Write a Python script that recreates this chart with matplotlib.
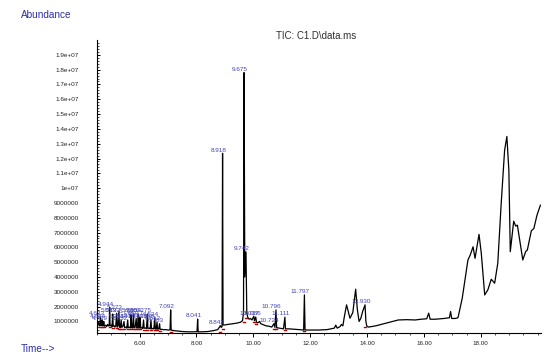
import numpy as np
import matplotlib
matplotlib.use("Agg")
import matplotlib.pyplot as plt

plt.rcParams['font.family'] = ['Liberation Sans', 'DejaVu Sans']

# TIC trace, retention time (min) vs abundance (millions of counts)
rt = [
    4.50, 4.55, 4.58, 4.60, 4.623, 4.64, 4.66, 4.684, 4.70, 4.72, 4.739, 4.76,
    4.80, 4.84, 4.87, 4.90, 4.93, 4.944, 4.96, 5.00, 5.03, 5.053, 5.07, 5.10,
    5.13, 5.16, 5.192, 5.21, 5.24, 5.273, 5.29, 5.32, 5.351, 5.37, 5.41, 5.452,
    5.47, 5.52, 5.55, 5.581, 5.60, 5.65, 5.68, 5.702, 5.72, 5.75, 5.786, 5.80,
    5.84, 5.880, 5.90, 5.93, 5.954, 5.97, 6.00, 6.017, 6.04, 6.08, 6.11, 6.138,
    6.16, 6.20, 6.24, 6.275, 6.29, 6.33, 6.37, 6.398, 6.42, 6.47, 6.50, 6.534,
    6.55, 6.58, 6.612, 6.63, 6.67, 6.703, 6.72, 6.78, 6.85, 6.92, 7.00, 7.07,
    7.092, 7.11, 7.20, 7.35, 7.50, 7.70, 7.90, 8.02, 8.041, 8.06, 8.20, 8.40,
    8.60, 8.75, 8.842, 8.87, 8.90, 8.918, 8.935, 8.96, 9.10, 9.30, 9.45, 9.55,
    9.62, 9.655, 9.675, 9.70, 9.742, 9.77, 9.80, 9.85, 9.90, 9.95, 10.017, 10.04,
    10.086, 10.11, 10.15, 10.22, 10.26, 10.35, 10.45, 10.55, 10.65, 10.724, 10.76, 10.796,
    10.82, 10.90, 11.00, 11.06, 11.111, 11.13, 11.25, 11.40, 11.60, 11.77, 11.797, 11.82,
    12.00, 12.30, 12.60, 12.85, 12.90, 12.95, 13.05, 13.10, 13.15, 13.20, 13.28, 13.35,
    13.40, 13.50, 13.60, 13.66, 13.72, 13.78, 13.85, 13.930, 13.96, 13.99, 14.05, 14.30,
    14.60, 14.90, 15.10, 15.40, 15.70, 15.90, 16.10, 16.17, 16.22, 16.40, 16.70, 16.90,
    16.94, 16.98, 17.10, 17.20, 17.35, 17.55, 17.63, 17.73, 17.80, 17.94, 18.02, 18.14,
    18.25, 18.37, 18.49, 18.60, 18.72, 18.84, 18.92, 18.99, 19.04, 19.16, 19.23, 19.29,
    19.48, 19.58, 19.64, 19.78, 19.87, 19.98, 20.10,
]
abund = [
    0.80, 0.95, 0.70, 0.75, 1.30, 0.72, 0.80, 1.10, 0.70, 0.78, 1.00, 0.68,
    0.75, 0.65, 0.80, 0.70, 0.72, 1.95, 0.70, 0.75, 0.66, 1.50, 0.68, 0.72,
    0.62, 0.70, 1.55, 0.62, 0.70, 1.70, 0.64, 0.58, 1.10, 0.60, 0.66, 1.00,
    0.58, 0.62, 0.55, 1.10, 0.58, 0.62, 0.56, 1.45, 0.58, 0.56, 1.50, 0.56,
    0.60, 1.20, 0.55, 0.58, 1.50, 0.55, 0.58, 1.30, 0.54, 0.58, 0.52, 1.10,
    0.54, 0.56, 0.52, 1.50, 0.52, 0.55, 0.50, 1.10, 0.50, 0.53, 0.49, 1.25,
    0.50, 0.48, 0.95, 0.48, 0.50, 0.85, 0.46, 0.47, 0.44, 0.45, 0.42, 0.43,
    1.78, 0.42, 0.38, 0.35, 0.32, 0.30, 0.30, 0.31, 1.16, 0.30, 0.30, 0.32,
    0.38, 0.45, 0.72, 0.60, 0.65, 12.35, 0.80, 0.75, 0.80, 0.85, 0.90, 0.95,
    1.05, 1.60, 17.80, 4.00, 5.70, 1.60, 1.30, 1.15, 1.20, 1.10, 1.35, 1.05,
    1.30, 0.95, 0.90, 1.00, 0.85, 0.78, 0.70, 0.68, 0.62, 0.85, 0.60, 1.78,
    0.58, 0.55, 0.52, 0.50, 1.29, 0.50, 0.50, 0.48, 0.45, 0.42, 2.79, 0.42,
    0.42, 0.42, 0.45, 0.55, 0.75, 0.55, 0.65, 0.80, 0.70, 1.30, 2.12, 1.60,
    1.22, 1.60, 3.18, 1.80, 1.00, 1.20, 1.70, 2.12, 1.00, 0.70, 0.62, 0.70,
    0.85, 1.00, 1.10, 1.12, 1.10, 1.15, 1.18, 1.56, 1.15, 1.15, 1.20, 1.25,
    1.67, 1.20, 1.20, 1.25, 2.57, 5.15, 5.48, 6.04, 5.26, 6.88, 5.60, 2.79,
    3.13, 3.85, 3.58, 4.93, 8.96, 12.55, 13.49, 11.20, 5.71, 7.77, 7.44, 7.50,
    5.15, 5.71, 5.82, 7.12, 7.28, 8.18, 8.85,
]

# integrated peaks that carry a retention-time label
labelled_rt = [
    4.623, 4.684, 4.739, 4.944, 5.053, 5.192, 5.273, 5.351, 5.452, 5.581,
    5.702, 5.786, 5.880, 5.954, 6.017, 6.138, 6.275, 6.398, 6.534, 6.612,
    6.703, 7.092, 8.041, 8.842, 8.918, 9.675, 9.742, 10.017, 10.086, 10.724,
    10.796, 11.111, 11.797, 13.930,
]

x_ticks = [6, 8, 10, 12, 14, 16, 18]
x_tick_labels = ["6.00", "8.00", "10.00", "12.00", "14.00", "16.00", "18.00"]
y_ticks = list(range(1, 20))
y_tick_labels = [
    "1000000", "2000000", "3000000", "4000000", "5000000", "6000000",
    "7000000", "8000000", "9000000", "1e+07", "1.1e+07", "1.2e+07",
    "1.3e+07", "1.4e+07", "1.5e+07", "1.6e+07", "1.7e+07", "1.8e+07", "1.9e+07",
]

blue = "#2e2e9e"
label_blue = "#4444b4"

t = np.array(rt)
y = np.array(abund) * 1e6

fig = plt.figure(figsize=(5.47, 3.56), dpi=100)
ax = fig.add_axes([0.1773, 0.0646, 0.8117, 0.823])

ax.plot(t, y, color="black", lw=0.9, zorder=3)

# integration baselines (red) and peak labels
for p in labelled_rt:
    i = int(np.argmin(np.abs(t - p)))
    base = y[i - 2:i + 3].min() - 0.08e6
    ax.plot([t[i] - 0.035, t[i] + 0.035], [base, base],
            color="#b00000", lw=1.0, zorder=4)
    ax.annotate(f"{p:.3f}", (t[i], y[i]), xytext=(-3, 0.5),
                textcoords="offset points", ha="center", va="bottom",
                fontsize=4.6, color=label_blue, zorder=5)

ax.set_xlim(4.50, 20.12)
ax.set_ylim(0.22e6, 2.0e7)

ax.set_xticks(x_ticks)
ax.set_xticklabels(x_tick_labels)
ax.set_xticks(np.arange(4.5, 20.2, 0.5), minor=True)
ax.set_yticks(np.array(y_ticks) * 1e6)
ax.set_yticklabels(y_tick_labels)
ax.set_yticks(np.arange(0.4, 20.0, 0.2) * 1e6, minor=True)

ax.tick_params(axis="x", which="major", direction="out", length=3, width=0.7,
               labelsize=4.5, pad=3, colors="black", labelcolor="#222222")
ax.tick_params(axis="x", which="minor", direction="out", length=1.5, width=0.5)
ax.tick_params(axis="y", which="major", direction="in", length=2.5, width=0.7,
               labelsize=4.6, pad=13, labelcolor="#222222")
ax.tick_params(axis="y", which="minor", direction="in", length=1.2, width=0.5)

for s in ["top", "right"]:
    ax.spines[s].set_visible(False)
for s in ["left", "bottom"]:
    ax.spines[s].set_linewidth(0.8)

fig.text(21 / 547, 1 - 15.5 / 356, "Abundance", fontsize=7.2, color=blue,
         ha="left", va="center")
fig.text(21 / 547, 1 - 349 / 356, "Time-->", fontsize=7.2, color=blue,
         ha="left", va="center")
fig.text(316 / 547, 1 - 36 / 356, "TIC: C1.D\\data.ms", fontsize=7,
         color="#303030", ha="center", va="center")

fig.savefig("out.png", dpi=100)
